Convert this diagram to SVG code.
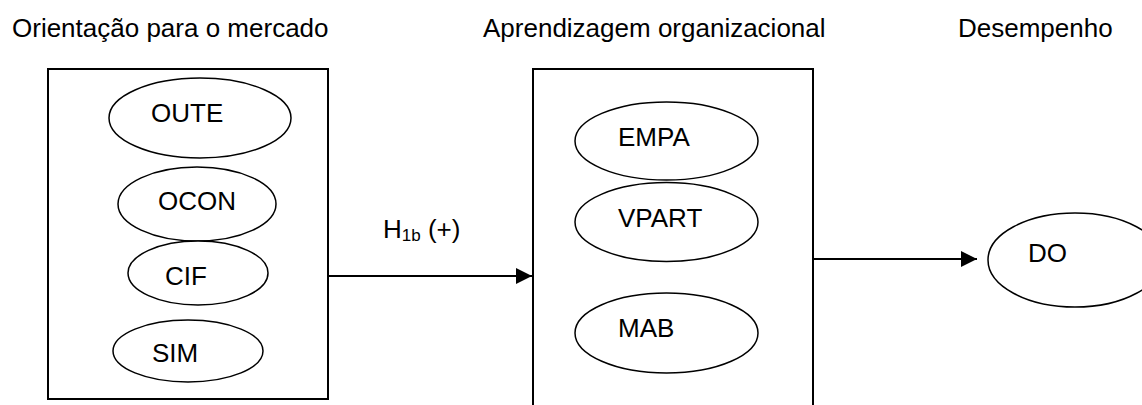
<svg xmlns="http://www.w3.org/2000/svg" width="1142" height="405" viewBox="0 0 1142 405">
<style>
text{font-family:"Liberation Sans",Arial,sans-serif;font-size:26px;fill:#000}
.box{fill:none;stroke:#000;stroke-width:2}
.ell{fill:#fff;stroke:#000;stroke-width:1.5}
.con{fill:none;stroke:#000;stroke-width:2}
.sub{font-size:17px}
</style>
<defs>
<marker id="arr" markerWidth="16" markerHeight="16" viewBox="0 0 16 16" refX="16" refY="8" orient="auto" markerUnits="userSpaceOnUse">
<path d="M0,0 L16,8 L0,16 Z" fill="#000"/>
</marker>
</defs>
<rect width="1142" height="405" fill="#fff"/>
<g id="titles">
<text x="12" y="37">Orientação para o mercado</text>
<text x="483" y="37">Aprendizagem organizacional</text>
<text x="958" y="37">Desempenho</text>
</g>
<g id="box-mercado">
<rect class="box" x="48" y="69" width="280" height="330"/>
</g>
<g id="node-oute"><ellipse class="ell" cx="200" cy="118" rx="91" ry="40"/><text x="151" y="122">OUTE</text></g>
<g id="node-ocon"><ellipse class="ell" cx="197" cy="204" rx="79" ry="37"/><text x="158" y="210">OCON</text></g>
<g id="node-cif"><ellipse class="ell" cx="198" cy="273" rx="70" ry="32"/><text x="165" y="285">CIF</text></g>
<g id="node-sim"><ellipse class="ell" cx="188" cy="351" rx="75" ry="31"/><text x="152" y="362">SIM</text></g>
<g id="box-aprendizagem">
<path class="box" d="M533,420 V69 H813 V420"/>
</g>
<g id="node-empa"><ellipse class="ell" cx="666.5" cy="141" rx="91.5" ry="39"/><text x="618" y="146">EMPA</text></g>
<g id="node-vpart"><ellipse class="ell" cx="666.5" cy="222" rx="91.5" ry="39.5"/><text x="618" y="227">VPART</text></g>
<g id="node-mab"><ellipse class="ell" cx="666.5" cy="333" rx="91.5" ry="40"/><text x="618" y="337">MAB</text></g>
<g id="node-do"><ellipse class="ell" cx="1075" cy="260" rx="87" ry="47"/><text x="1028" y="262">DO</text></g>
<g id="connectors">
<line class="con" x1="328" y1="276" x2="532" y2="276" marker-end="url(#arr)"/>
<line class="con" x1="813" y1="259" x2="977" y2="259" marker-end="url(#arr)"/>
<text x="383" y="238">H<tspan class="sub" dy="3">1b</tspan><tspan dy="-3"> (+)</tspan></text>
</g>
</svg>
